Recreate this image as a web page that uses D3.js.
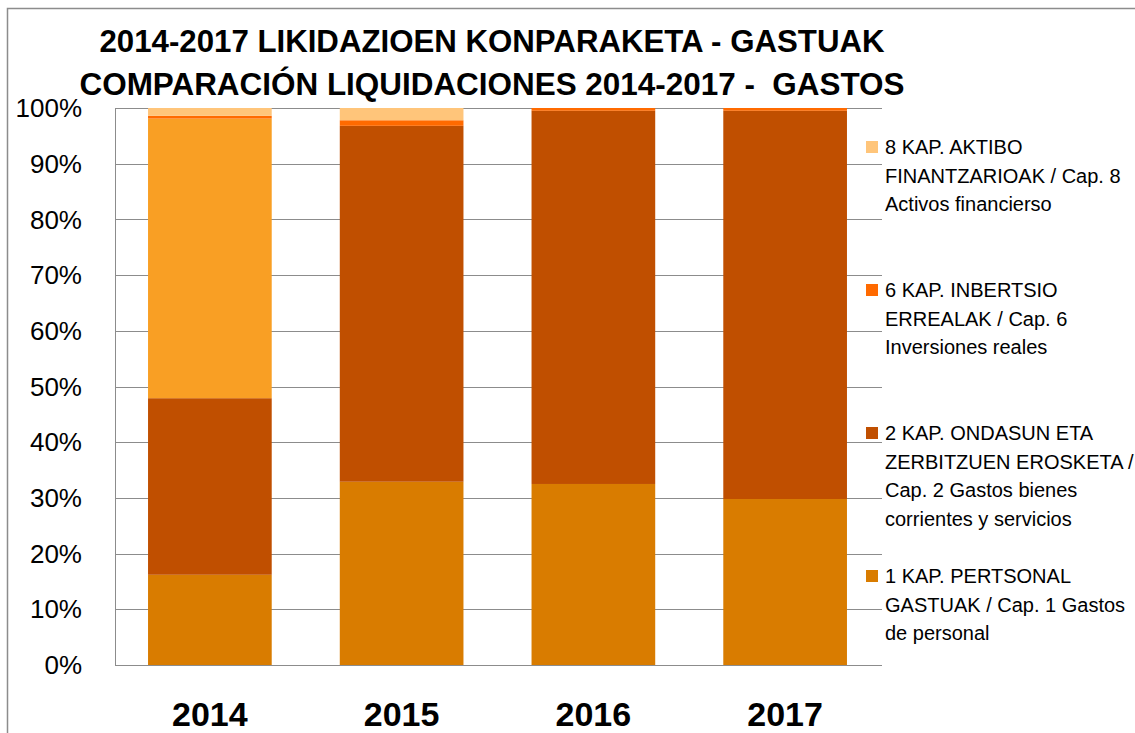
<!DOCTYPE html>
<html><head><meta charset="utf-8">
<script src="https://cdn.jsdelivr.net/npm/d3@7"></script>
<style>body{margin:0;background:#fff}svg{display:block}</style>
</head><body>
<svg id="c" width="1135" height="733"></svg>
<script>
const years = ["2014","2015","2016","2017"];
// percentages of total per year
const kap1 = [16.2, 32.9, 32.5, 29.8];   // 1 KAP. Pertsonal gastuak
const kap2 = [31.7, 63.9, 67.0, 69.7];   // 2 KAP. Ondasun eta zerbitzuen erosketa
const other = [50.2, 0, 0, 0];           // series not shown in legend
const kap6 = [0.5, 1.0, 0.5, 0.5];       // 6 KAP. Inbertsio errealak
const kap8 = [1.4, 2.2, 0, 0];           // 8 KAP. Aktibo finantzarioak
const yTicks = [0,10,20,30,40,50,60,70,80,90,100];

const series = [
  {key:"kap1", values:kap1, color:"#D97C00", legend:["1 KAP. PERTSONAL","GASTUAK / Cap. 1 Gastos","de personal"]},
  {key:"kap2", values:kap2, color:"#C04F00", legend:["2 KAP. ONDASUN ETA","ZERBITZUEN EROSKETA /","Cap. 2 Gastos bienes","corrientes y servicios"]},
  {key:"other", values:other, color:"#F99F24", legend:null},
  {key:"kap6", values:kap6, color:"#FF6A00", legend:["6 KAP. INBERTSIO","ERREALAK / Cap. 6","Inversiones reales"]},
  {key:"kap8", values:kap8, color:"#FFC57A", legend:["8 KAP. AKTIBO","FINANTZARIOAK / Cap. 8","Activos financierso"]}
];

const svg = d3.select("#c");
const L=115, R=882, T=108, B=665;
const font = "'Liberation Sans', Arial, sans-serif";

// outer chart border
svg.append("rect").attr("x",7.5).attr("y",8.5).attr("width",1200).attr("height",800)
  .attr("fill","none").attr("stroke","#8c8c8c").attr("stroke-width",1.5);

const x = d3.scaleBand().domain(years).range([L,R]).paddingInner(0.355).paddingOuter(0.1775);
const y = d3.scaleLinear().domain([0,100]).range([B,T]);

// gridlines
svg.append("g").selectAll("line").data(yTicks).join("line")
  .attr("x1",L).attr("x2",R).attr("y1",d=>Math.round(y(d))+0.5).attr("y2",d=>Math.round(y(d))+0.5)
  .attr("stroke","#8c8c8c").attr("stroke-width",1);
svg.append("line").attr("x1",L+0.5).attr("x2",L+0.5).attr("y1",T).attr("y2",B+0.5)
  .attr("stroke","#8c8c8c");

// stacked bars
const rows = years.map((yr,i)=>{const o={year:yr}; series.forEach(s=>o[s.key]=s.values[i]); return o;});
const stack = d3.stack().keys(series.map(s=>s.key))(rows);
svg.append("g").selectAll("g").data(stack).join("g")
  .attr("fill",(d,i)=>series[i].color)
  .selectAll("rect").data(d=>d).join("rect")
  .attr("x",d=>x(d.data.year)-1).attr("width",x.bandwidth())
  .attr("y",d=>y(d[1])).attr("height",d=>Math.max(0,y(d[0])-y(d[1])));

// y labels
svg.append("g").selectAll("text").data(yTicks).join("text")
  .attr("x",82).attr("y",d=>y(d)).attr("dy","0.35em").attr("text-anchor","end")
  .attr("font-family",font).attr("font-size",26).attr("fill","#000")
  .text(d=>d+"%");

// x labels
svg.append("g").selectAll("text").data(years).join("text")
  .attr("x",d=>x(d)+x.bandwidth()/2-1).attr("y",726).attr("text-anchor","middle")
  .attr("font-family",font).attr("font-size",34).attr("font-weight","bold").attr("fill","#000")
  .text(d=>d);

// title
const titles = [{t:"2014-2017 LIKIDAZIOEN KONPARAKETA - GASTUAK", y:52, len:785, cx:492},
                {t:"COMPARACIÓN LIQUIDACIONES 2014-2017 -  GASTOS", y:95, len:825, cx:492}];
svg.append("g").selectAll("text").data(titles).join("text")
  .attr("x",d=>d.cx).attr("y",d=>d.y).attr("text-anchor","middle")
  .attr("font-family",font).attr("font-size",32).attr("font-weight","bold").attr("fill","#000")
  .attr("textLength",d=>d.len).attr("lengthAdjust","spacingAndGlyphs")
  .style("white-space","pre")
  .text(d=>d.t);

// legend
const legItems = [series[4], series[3], series[1], series[0]];
const legY = [147, 290, 433, 576];
const lg = svg.append("g").selectAll("g").data(legItems).join("g")
  .attr("transform",(d,i)=>`translate(866,${legY[i]})`);
lg.append("rect").attr("x",0).attr("y",-6).attr("width",12).attr("height",12).attr("fill",d=>d.color);
lg.each(function(d){
  d3.select(this).selectAll("text").data(d.legend).join("text")
    .attr("x",19).attr("y",(t,j)=>j*28.7).attr("dy","0.35em")
    .attr("font-family",font).attr("font-size",20).attr("fill","#000")
    .text(t=>t);
});
</script>
</body></html>
